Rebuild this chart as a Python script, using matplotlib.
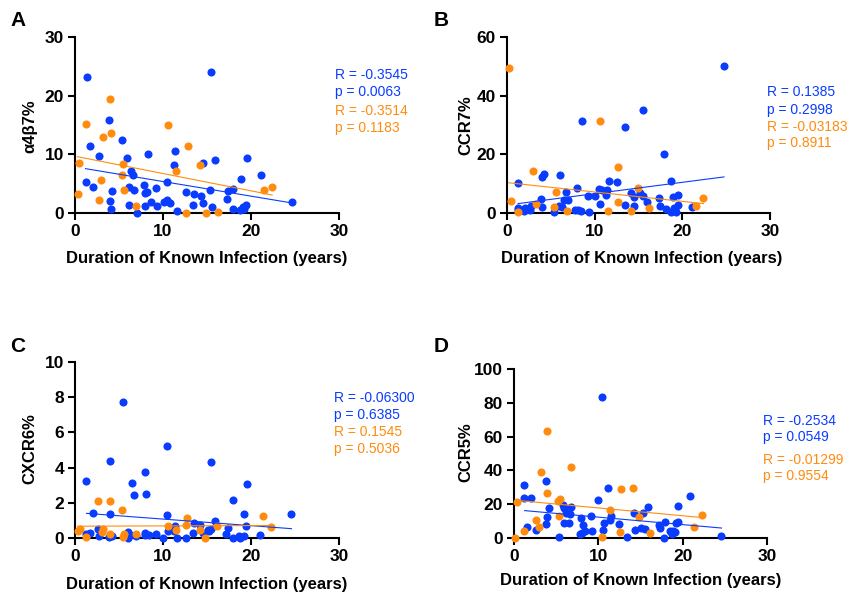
import matplotlib
matplotlib.use('Agg')
import matplotlib.pyplot as plt

plt.rcParams['font.family'] = ['Liberation Sans', 'DejaVu Sans']

BLUE = '#0a3cff'
ORANGE = '#ff8c0f'

# ---- Panel A: a4b7% ----
a_blue_x = [1.33, 15.45, 1.7, 3.9, 5.3, 2.7, 5.9, 8.3, 11.4, 6.4, 6.6, 11.25, 14.5, 15.9, 19.5, 18.9, 21.1,
            1.3, 2.1, 4.2, 4.0, 4.05, 6.1, 6.7, 7.8, 7.95, 8.2, 9.2, 8.6, 7.9, 9.3, 6.1, 7.0, 10.5, 10.1,
            10.5, 10.8, 11.6, 12.6, 13.5, 14.3, 13.4, 14.5, 15.3, 15.6, 17.35, 17.95, 17.3, 17.95, 18.75,
            19.05, 19.4, 19.2, 24.7]
a_blue_y = [23.2, 24.1, 11.5, 15.9, 12.4, 9.8, 9.4, 10.1, 10.6, 7.2, 6.4, 8.1, 8.5, 9.0, 9.3, 5.8, 6.5,
            5.2, 4.5, 3.75, 2.0, 0.74, 4.4, 4.0, 4.7, 3.35, 3.5, 4.2, 1.9, 1.2, 1.2, 1.3, 0.0, 5.3, 1.9,
            2.2, 1.7, 0.4, 3.6, 3.2, 2.9, 1.4, 1.7, 4.0, 1.1, 3.75, 4.1, 2.4, 0.74, 0.45,
            1.1, 1.4, 0.6, 1.9]
a_orange_x = [0.3, 0.5, 1.3, 4.0, 4.05, 3.2, 3.0, 2.7, 5.4, 5.3, 5.6, 6.9, 10.6, 11.5, 12.8, 14.2, 12.65,
              14.9, 16.25, 21.5, 22.4]
a_orange_y = [3.3, 8.6, 15.1, 19.5, 13.6, 13.0, 5.6, 2.2, 8.3, 6.5, 4.0, 1.25, 15.0, 7.2, 11.5, 8.2, 0.0,
              0.0, 0.2, 4.0, 4.4]
a_blue_fit = ([1.2, 24.7], [7.56, 1.7])
a_orange_fit = ([0.27, 22.4], [9.6, 3.07])
a_stats = ['R = -0.3545', 'p = 0.0063', 'R = -0.3514', 'p = 0.1183']

# ---- Panel B: CCR7% ----
b_blue_x = [24.7, 8.55, 15.5, 13.5, 17.95, 1.25, 4.0, 4.2, 6.05, 7.95, 6.7, 11.6, 12.6, 18.7, 10.5, 10.8,
            11.4, 11.25, 9.2, 10.0, 14.2, 14.5, 15.2, 15.5, 15.97, 17.3, 18.9, 19.5, 3.9, 3.95, 6.5, 7.0,
            5.9, 6.3, 10.6, 13.5, 14.5, 17.4, 18.1, 19.55, 21.1, 2.7, 2.0, 1.25, 2.6, 1.2, 1.95, 5.4,
            7.7, 8.1, 8.4, 9.3, 18.75, 19.2, 19.3, 19.0]
b_blue_y = [50.2, 31.25, 35.2, 29.3, 20.1, 10.3, 12.3, 13.2, 13.1, 8.5, 7.3, 11.0, 10.5, 10.9, 8.1, 8.0,
            7.7, 6.1, 5.7, 5.8, 6.8, 5.5, 6.9, 5.9, 3.6, 5.0, 5.5, 6.0, 4.8, 2.0, 4.3, 4.5,
            2.4, 2.0, 3.2, 2.7, 2.4, 2.4, 1.5, 2.7, 1.9, 2.4, 1.8, 1.8, 0.9, 0.9, 0.7, 0.3,
            0.9, 0.9, 0.8, 0.45, 0.3, 0.9, 0.2, 1.7]
b_orange_x = [0.23, 10.6, 12.65, 3.0, 5.55, 14.9, 0.4, 3.3, 5.36, 6.9, 11.5, 12.7, 14.2, 16.2, 21.55,
              22.4, 1.25]
b_orange_y = [49.4, 31.5, 15.7, 14.3, 7.2, 8.5, 4.2, 3.1, 2.0, 0.7, 0.8, 3.6, 0.7, 1.8, 2.4, 5.1, 0.3]
b_blue_fit = ([1.25, 24.75], [3.2, 12.3])
b_orange_fit = ([0.19, 22.4], [10.3, 3.2])
b_stats = ['R = 0.1385', 'p = 0.2998', 'R = -0.03183', 'p = 0.8911']

# ---- Panel C: CXCR6% ----
c_blue_x = [5.4, 10.5, 3.94, 15.5, 7.9, 1.25, 6.5, 19.5, 8.1, 6.7, 17.9, 2.1, 4.0, 10.45, 19.2, 24.6,
            2.6, 2.7, 1.25, 1.7, 3.9, 4.2, 6.06, 6.25, 6.0, 6.9, 7.9, 8.0, 8.45, 9.2, 10.0, 10.6, 11.2,
            11.4, 11.6, 12.6, 13.4, 13.5, 14.2, 14.5, 15.2, 15.4, 15.9, 17.35, 17.2, 17.9, 18.6, 18.8,
            19.2, 19.4, 21.0, 15.15]
c_blue_y = [7.7, 5.25, 4.36, 4.32, 3.77, 3.24, 3.12, 3.09, 2.52, 2.42, 2.18, 1.4, 1.38, 1.29, 1.36, 1.38,
            0.53, 0.13, 0.2, 0.3, 0.06, 0.1, 0.34, 0.15, 0.0, 0.11, 0.15, 0.3, 0.15, 0.2, 0.0, 0.38, 0.42,
            0.68, 0.0, 0.0, 0.3, 0.85, 0.76, 0.28, 0.38, 0.53, 0.95, 0.55, 0.25, 0.0, 0.13, 0.0,
            0.11, 0.66, 0.15, 0.44]
c_orange_x = [2.65, 3.94, 5.34, 12.7, 21.4, 22.3, 0.3, 0.53, 1.3, 3.2, 3.1, 4.0, 5.4, 5.6, 6.9, 10.6,
              11.5, 12.6, 14.2, 14.8, 16.1]
c_orange_y = [2.1, 2.08, 1.59, 1.14, 1.27, 0.61, 0.38, 0.49, 0.06, 0.53, 0.34, 0.23, 0.06, 0.25, 0.25,
              0.66, 0.45, 0.72, 0.45, 0.0, 0.68]
c_blue_fit = ([1.3, 24.6], [1.40, 0.53])
c_orange_fit = ([0.27, 22.6], [0.67, 0.71])
c_stats = ['R = -0.06300', 'p = 0.6385', 'R = 0.1545', 'p = 0.5036']

# ---- Panel D: CCR5% ----
d_blue_x = [10.4, 1.2, 3.8, 11.1, 20.9, 1.2, 2.05, 10.0, 4.1, 3.9, 3.85, 5.8, 5.9, 6.8, 6.2, 6.6, 5.97,
            6.5, 8.0, 9.1, 8.2, 8.4, 7.8, 8.1, 9.2, 1.6, 2.6, 5.3, 11.5, 11.35, 10.7, 10.5, 12.5, 13.4,
            14.2, 14.4, 15.3, 15.85, 15.1, 15.5, 17.2, 17.3, 17.9, 17.8, 18.5, 18.8, 18.7, 19.1, 19.2,
            19.4, 19.45, 24.6]
d_blue_y = [83.4, 31.4, 34.0, 29.8, 25.1, 23.7, 23.9, 22.7, 17.6, 12.5, 8.3, 19.8, 17.8, 18.6, 14.8,
            14.4, 8.7, 8.7, 12.1, 13.2, 7.7, 4.3, 2.6, 3.2, 4.3, 6.5, 4.5, 0.6, 13.0, 10.7, 8.9, 4.7,
            8.3, 0.6, 14.6, 4.5, 14.6, 18.2, 6.1, 5.3, 7.9, 5.9, 9.7, 0.0, 4.3, 4.2, 2.4, 3.75, 9.1,
            9.7, 19.0, 1.2]
d_orange_x = [3.9, 6.8, 3.2, 3.9, 12.7, 14.1, 0.4, 5.2, 5.5, 11.4, 5.3, 2.6, 3.0, 1.2, 0.16, 10.4,
              12.6, 14.8, 16.1, 21.4, 22.3]
d_orange_y = [63.2, 42.3, 39.1, 26.7, 29.2, 29.8, 21.5, 22.1, 22.9, 16.4, 12.8, 10.9, 6.7, 4.3, 0.0,
              0.4, 3.6, 12.5, 3.2, 6.3, 13.6]
d_blue_fit = ([1.26, 24.6], [16.2, 5.9])
d_orange_fit = ([0.24, 22.3], [22.3, 12.1])
d_stats = ['R = -0.2534', 'p = 0.0549', 'R = -0.01299', 'p = 0.9554']

W, H = 850, 592
fig = plt.figure(figsize=(W / 100, H / 100), dpi=100)


def px(x0, y0, x1, y1):
    return [x0 / W, 1 - y1 / H, (x1 - x0) / W, (y1 - y0) / H]


panels = [
    dict(rect=(75, 37, 339, 213), ymax=30, yticks=[0, 10, 20, 30], ylab='α4β7%', ylab_xy=(30, 126),
         letter='A', letter_xy=(18, 20), xlab_xy=(207, 259),
         bx=a_blue_x, by=a_blue_y, ox=a_orange_x, oy=a_orange_y, bf=a_blue_fit, of=a_orange_fit,
         stats=a_stats, stats_x=335, stats_y=[75, 92, 111, 128]),
    dict(rect=(507, 37, 770, 213), ymax=60, yticks=[0, 20, 40, 60], ylab='CCR7%', ylab_xy=(466, 125),
         letter='B', letter_xy=(441, 20), xlab_xy=(642, 259),
         bx=b_blue_x, by=b_blue_y, ox=b_orange_x, oy=b_orange_y, bf=b_blue_fit, of=b_orange_fit,
         stats=b_stats, stats_x=767, stats_y=[92, 110, 127, 143]),
    dict(rect=(75, 362, 339, 538), ymax=10, yticks=[0, 2, 4, 6, 8, 10], ylab='CXCR6%', ylab_xy=(30, 449),
         letter='C', letter_xy=(18, 347), xlab_xy=(207, 584),
         bx=c_blue_x, by=c_blue_y, ox=c_orange_x, oy=c_orange_y, bf=c_blue_fit, of=c_orange_fit,
         stats=c_stats, stats_x=334, stats_y=[398, 415, 432, 449]),
    dict(rect=(514, 369, 767, 538), ymax=100, yticks=[0, 20, 40, 60, 80, 100], ylab='CCR5%',
         ylab_xy=(466, 452), letter='D', letter_xy=(441, 347), xlab_xy=(641, 580),
         bx=d_blue_x, by=d_blue_y, ox=d_orange_x, oy=d_orange_y, bf=d_blue_fit, of=d_orange_fit,
         stats=d_stats, stats_x=763, stats_y=[421, 437, 460, 476]),
]

for p in panels:
    ax = fig.add_axes(px(*p['rect']))
    ax.scatter(p['bx'], p['by'], s=34, color=BLUE, linewidths=0, clip_on=False, zorder=3)
    ax.scatter(p['ox'], p['oy'], s=34, color=ORANGE, linewidths=0, clip_on=False, zorder=3)
    ax.plot(p['bf'][0], p['bf'][1], color=BLUE, lw=0.8, zorder=4)
    ax.plot(p['of'][0], p['of'][1], color=ORANGE, lw=0.8, zorder=4)
    ax.set_xlim(0, 30)
    ax.set_ylim(0, p['ymax'])
    ax.set_xticks([0, 10, 20, 30])
    ax.set_yticks(p['yticks'])
    for side in ['top', 'right']:
        ax.spines[side].set_visible(False)
    for side in ['left', 'bottom']:
        ax.spines[side].set_linewidth(1.5)
    ax.tick_params(width=1.5, length=5, labelsize=12.5, pad=3)
    for lab in ax.get_xticklabels() + ax.get_yticklabels():
        lab.set_fontweight('bold')

    fig.text(p['ylab_xy'][0] / W, 1 - p['ylab_xy'][1] / H, p['ylab'], rotation=90,
             ha='center', va='center', fontsize=12, fontweight='bold')
    fig.text(p['xlab_xy'][0] / W, 1 - p['xlab_xy'][1] / H, 'Duration of Known Infection (years)',
             ha='center', va='center', fontsize=12, fontweight='bold')
    fig.text(p['letter_xy'][0] / W, 1 - p['letter_xy'][1] / H, p['letter'],
             ha='center', va='center', fontsize=15, fontweight='bold')
    cols = [BLUE, BLUE, ORANGE, ORANGE]
    for txt, yy, c in zip(p['stats'], p['stats_y'], cols):
        fig.text(p['stats_x'] / W, 1 - yy / H, txt, ha='left', va='center', fontsize=10, color=c)

fig.savefig('out.png', dpi=100)
